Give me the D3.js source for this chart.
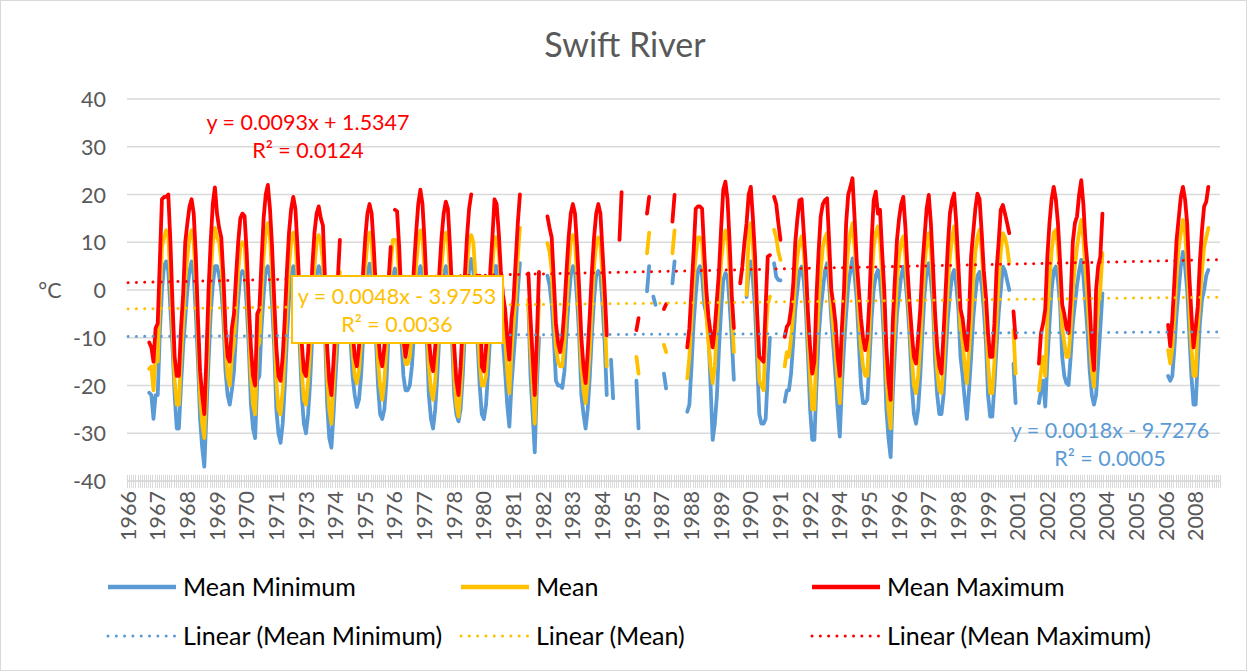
<!DOCTYPE html>
<html>
<head>
<meta charset="utf-8">
<script src="https://cdn.jsdelivr.net/npm/d3@7"></script>
<style>
  body { margin: 0; background: #fff; }
  text { font-family: Lato, "Open Sans", sans-serif; }
</style>
</head>
<body>
<svg id="chart" width="1247" height="671"></svg>
<script>
// Monthly climate record, Swift River, Jan 1966 - Dec 2008 (one row per year, Jan..Dec)
const _ = null;
const firstYear = 1966;
const lastYear = 2008;

const meanMaximum = [
  _,_,_,_,_,_,_,_,_,_,-11,-12,                       // 1966
  -15,-8,-7,6,19,19.5,19.5,20,10,-3,-14,-18,        // 1967
  -18,-8,-1,10,14,17.5,19,16,7,-6,-17,-22,          // 1968
  -26,-14,0,10,18,21.5,16,13,11,3,-8,-14,           // 1969
  -15,-8,-5,3,10,15,16,15.5,8,-3,-12,-18,           // 1970
  -20,-5,-4,6,15,20,22,17,9,-2,-12,-18,             // 1971
  -19,-14,-6,4,12,17,19.5,17,9,-1,-11,-17,          // 1972
  -18,-13,-5,5,12,16,17.5,15,13.5,2,-12,-19,        // 1973
  -22,-15,-7,2,10.5,_,_,_,_,0,-8,-14,               // 1974
  -16,-12,-5,4,11,16,18,16,9,0,-9,-14,              // 1975
  -16,-12,-6,2,9,_,16.8,16.5,9,-2,-10,-14,          // 1976
  -11,-8,-3,5,12,18,21,18,10,0,-10,-15,             // 1977
  -17,-12,-5,4,11,16,18.5,17,9,-1,-12,-19,          // 1978
  -22,-16,-7,3,11,17,20,_,_,_,3,-16,                // 1979
  -17,-12,-5,4,11,19,18,12,4,-1,-4,-10,             // 1980
  -14.6,-6,-2,6,14,20,_,_,_,3.5,-6,-14,             // 1981
  -22,-10,3.8,_,_,_,15.4,13,11,2,-7,-11,            // 1982
  -13,-10,-4,4,11,16,18,16,9,0,-10,-16,             // 1983
  -19.5,-13,-5,4,11,16,18,16,8,0,-9.5,_,            // 1984
  _,_,_,_,10.5,20.5,_,_,_,_,_,_,                     // 1985
  -8.4,-5.9,_,_,_,16,19.5,_,_,_,_,_,                 // 1986
  _,-4,-3,_,_,14.3,19.9,_,_,_,_,_,                   // 1987
  -12,-8,0,8,17,17.5,17.5,17,8,0,-5.6,-9,           // 1988
  -12,-8,-2,4,13,21,22.7,19,10,-1,-8,_,             // 1989
  _,1.4,5,10,14,20,21.6,15,7,-5,-14,-14.5,          // 1990
  -15,-3.5,7,7.3,_,19.5,18,14,10.5,_,-9.8,-7.7,     // 1991
  -7,-4,1,10,15,18.8,19,12,5,-5,-12,-17.5,          // 1992
  -15,-1.4,8,15.4,18,18.8,19.2,10,0,-3,-7,-14,      // 1993
  -18,-8,0,14,20,21.6,23.4,15,6,0,-6,-10,           // 1994
  -12.6,-10,-2,10,18.8,20.6,16,16.8,8,0,-12,-19,    // 1995
  -23,-7,2,10.5,15,18,19.5,13,4,-3,-9,-14,          // 1996
  -15.4,-10,-4,5,11,17,19.9,14,5,-5,-12,-16,        // 1997
  -17.5,-9,0,9,16,18.8,20.2,14,5,-4,-6,-10,         // 1998
  -12.6,-6,7,12,17,20.2,19,12,4,-1.4,-9,-14,        // 1999
  -14,-7,4,10,16.8,17.8,16,14,11.9,_,-4.5,-10,      // 2000
  _,_,_,_,_,_,_,_,_,_,-15.4,-9,                      // 2001
  -7,-4,7,14,19,21.6,19,14,6,-3,-5,-8,              // 2002
  -9,-2,10,14,15.4,20,23,18,10,5,-3.5,-12,          // 2003
  -16.8,0,5,7,16,_,_,_,_,_,_,_,                      // 2004
  _,_,_,_,_,_,_,_,_,_,_,_,                           // 2005
  _,_,_,_,_,_,_,_,_,_,_,-7.3,                        // 2006
  -11.8,-6,2,10.5,15,19.5,21.6,19,14,3,-5,-12,      // 2007
  -8,-3.5,6,12.6,17.5,18.5,21.6,_,_,_,_,_            // 2008
];

const meanTemp = [
  _,_,_,_,_,_,_,_,_,_,-16.5,-16,                     // 1966
  -21,-14,-15,-2,9,11,12.5,11,3,-8,-19,-24,         // 1967
  -24,-14,-7,2,7,11,12.5,10,2,-10,-22,-28,          // 1968
  -31,-20,-8,3,10,13,11,10,6,-2,-12,-18,            // 1969
  -20,-14,-11,-3,4,9,10,9.5,3,-7,-18,-24,           // 1970
  -26,-12,-11,-1,7,12,14,11,3,-7,-19,-25,           // 1971
  -26,-21,-13,-3,5,10,12,10,3,-6,-17,-23,           // 1972
  -24,-19,-12,-2,5,10,11.5,10,6,-4,-18,-25,         // 1973
  -28,-20,-12,-4,3.8,_,_,_,_,-5,-13,-18,            // 1974
  -19.5,-17,-11,-3,5,10,12,10,3,-5,-15,-20,         // 1975
  -23,-19,-12,-3,5,10.5,10.5,10,3,-5,-12,-15.5,     // 1976
  -15.5,-14,-9,-2,5,10,12.5,11,4,-5,-16,-21,        // 1977
  -23,-19,-12,-3,5,10,12,10.5,3,-6,-18,-24,         // 1978
  -26.5,-21,-13,-3,5,10,11.5,10,3,-6,-15,-20,       // 1979
  -20,-18,-11,-3,5,11,11,8,2,-5,-10,-17,            // 1980
  -21.6,-13,-7,-1,7,13,_,_,_,-2,-12,-20,            // 1981
  -28,-14,-2,_,_,_,9.8,8,4,-5,-12,-15,              // 1982
  -16,-16,-11,-3,5,10,11.5,10,3,-5,-16,-21,         // 1983
  -23.7,-19,-12,-3,5,9.5,11,9.5,3,-5,-16,_,         // 1984
  _,_,_,_,_,_,_,_,_,_,_,_,                           // 1985
  -14,-17.5,_,_,_,7.7,12,_,_,_,_,_,                  // 1986
  _,-11.5,-13,_,_,7.7,12.5,_,_,_,_,_,                // 1987
  -18.5,-14,-6,2,7,11,11,10,3,-5,-11,-16,           // 1988
  -19.5,-16,-8,-1,6,10,12.5,11,4,-4,-13,_,          // 1989
  _,_,_,_,-1,12,14,9,2,-8,-19,-20,                   // 1990
  -21,-10,-3,-1.4,_,12.6,11,8,6.3,_,-16,-13,        // 1991
  -14,-10,-5,2,7,10,11.2,8,1,-9,-18,-25,            // 1992
  -25,-12,-3,4,9,11,11.9,6,-3,-8,-13,-19,           // 1993
  -23.7,-12,-5,3,9,12,14,9,3,-5,-12,-16,            // 1994
  -18,-18,-8,2,9,12,13.3,10,3,-6,-18,-25,           // 1995
  -29,-15,-7,2,7,10,11.2,7,0,-6,-14,-20,            // 1996
  -21.6,-18,-11,-2,5,10,11.9,8,1,-10,-17,-21,       // 1997
  -21.6,-16,-7,1,7,11,13.3,9,2,-8,-11,-16,          // 1998
  -19.5,-13,-6,2,8,11,12.6,8,1,-6,-15,-21.6,        // 1999
  -21.6,-15,-6,2,8,11.9,11,9,5.6,_,-8.4,-17.5,      // 2000
  _,_,_,_,_,_,_,_,_,_,-21,-17,                       // 2001
  -14,-18,-6,2,8,12,12.6,9,2,-8,-11,-14,            // 2002
  -14,-8,0,5,9,12,14.7,11,4,-2,-10,-17,             // 2003
  -20.3,-10,-3,0,7.7,_,_,_,_,_,_,_,                  // 2004
  _,_,_,_,_,_,_,_,_,_,_,_,                           // 2005
  _,_,_,_,_,_,_,_,_,_,_,-12.6,                       // 2006
  -15.4,-12,-5,3,9,12,14.7,12,6,-3,-12,-18,         // 2007
  -18,-8,-2,4,9,11,13,_,_,_,_,_                      // 2008
];

const meanMinimum = [
  _,_,_,_,_,_,_,_,_,_,-21.5,-22,                     // 1966
  -27,-22,-22,-9,0,5,6,4,-4,-12,-22,-29,            // 1967
  -29,-20,-12,-6,0,4,6,3,-5,-15,-27,-33,            // 1968
  -37,-26,-15,-5,1,5,5,3,0,-6,-17,-22,              // 1969
  -24,-21,-17,-9,-2,3,4,3.5,-3,-12,-24,-29,         // 1970
  -31,-19,-18,-8,-1,4,5,3,-3,-12,-25,-30,           // 1971
  -32,-28,-20,-10,-2,3,5,3,-3,-11,-22,-28,          // 1972
  -30,-26,-19,-9,-2,3,5,4,0,-9,-24,-31,             // 1973
  -33,-26,-18,-10,-3,_,_,_,_,-10,-18,-22,           // 1974
  -24.5,-23,-18,-10,-2,3,5.5,4,-2,-10,-20,-26,      // 1975
  -27,-25,-19,-9,-2,3,4.5,3,-3,-10,-18,-21,         // 1976
  -21,-20,-16,-9,-2,3,5,4,-2,-10,-22,-27,           // 1977
  -29,-25,-18,-9,-2,3,5,4,-2,-11,-22,-26,           // 1978
  -27.5,-25,-18,-9,-1,4,6.5,4,-2,-11,-20,-26,       // 1979
  -27,-24,-17,-9,-2,5,5,2,-3,-11,-17,-24,           // 1980
  -28.6,-20,-14,-8,0,5.6,_,_,_,-3,-18,-26,          // 1981
  -34,-20,-10,_,_,_,3,1,-3,-10,-19,-20,             // 1982
  -20,-20.5,-17,-9,-2,3,5,4,-2,-10,-22,-26,         // 1983
  -29,-25,-18,-9,-2,3,4,3,-3,-11,-22,_,             // 1984
  -14.6,-22.7,_,_,_,_,_,_,_,_,_,_,                   // 1985
  -19,-29,_,_,_,-0.3,5,_,-1.4,-3.1,_,_,              // 1986
  _,-17.5,-20.6,_,_,1.4,6,_,_,_,_,_,                 // 1987
  -25.5,-24,-16,-7,-1,4,5,3,-3,-5,-9,-20,           // 1988
  -31.4,-28,-22,-12,-4,2,3.5,3,-3,-10,-18.8,_,      // 1989
  _,_,_,_,-1.5,4,6,2,-4,-15,-26,-28,                 // 1990
  -28,-27,-18,-10,_,5.6,2.8,2.1,2,_,-23.4,-21,      // 1991
  -21,-17.5,-11,-4,0,4,4.9,2,-4,-14,-25,-31.4,      // 1992
  -31.4,-20,-10,-4,0,4,5.6,1,-6,-12,-18,-25,        // 1993
  -30.7,-20,-12,-5,1,4,6.6,3,-2,-11,-20,-23.7,      // 1994
  -23.7,-23,-15,-6,0,3,4.2,2,-3,-12,-25,-31,        // 1995
  -35,-22,-13,-5,-1,3,4.9,2,-3,-10,-20,-26,         // 1996
  -28,-25,-18,-9,-1,4,5.6,2,-3,-15,-22,-26,         // 1997
  -26,-22,-14,-6,-1,3,4.2,1,-4,-14,-18,-23,         // 1998
  -27,-21,-14,-6,-1,3,3.8,1,-4,-11,-22,-26.5,       // 1999
  -26.5,-20,-12,-5,0,4.9,4,2,0,_,-15.4,-23.7,       // 2000
  _,_,_,_,_,_,_,_,_,_,-23.7,-21,                     // 2001
  -19,-24.4,-15,-7,0,4,4.9,2,-3,-14,-18,-19.5,      // 2002
  -19.9,-14,-7,-3,1,4,6.3,3,-3,-9,-17,-22,          // 2003
  -24,-22,-15,-8,-0.7,_,_,_,_,_,_,_,                 // 2004
  _,_,_,_,_,_,_,_,_,_,_,_,                           // 2005
  _,_,_,_,_,_,_,_,_,_,_,-18,                         // 2006
  -19,-18,-12,-5,0,5,8,5,0,-9,-18,-24,              // 2007
  -24,-15,-7,-2,0,3,4.2,_,_,_,_,_                    // 2008
];

// Linear trendlines (x = month number, starting at 1)
const seriesNames   = ["Mean Minimum", "Mean", "Mean Maximum"];
const seriesColors  = ["#5B9BD5", "#FFC000", "#FF0000"];
const trendSlopes     = [0.0018, 0.0048, 0.0093];
const trendIntercepts = [-9.7276, -3.9753, 1.5347];
const trendLabels = [
  ["y = 0.0018x - 9.7276", "R² = 0.0005"],
  ["y = 0.0048x - 3.9753", "R² = 0.0036"],
  ["y = 0.0093x + 1.5347", "R² = 0.0124"]
];
const yTicks = [-40, -30, -20, -10, 0, 10, 20, 30, 40];
const labelEvery = 14; // months between category labels

const W = 1247, H = 671;
const svg = d3.select("#chart");
const plot = { left: 127, right: 1220, top: 99, bottom: 481 };
const nMonths = (lastYear - firstYear + 1) * 12;
const months = d3.range(nMonths);

const x = d3.scaleBand().domain(months).range([plot.left, plot.right]).paddingInner(0).paddingOuter(0);
const xc = i => x(i) + x.bandwidth() / 2;
const y = d3.scaleLinear().domain([-40, 40]).range([plot.bottom, plot.top]);

// chart frame
svg.append("rect").attr("x", 0.5).attr("y", 0.5).attr("width", W - 1).attr("height", H - 1)
  .attr("fill", "#fff").attr("stroke", "#D9D9D9").attr("stroke-width", 1);

// title
svg.append("text").attr("x", 625).attr("y", 57).attr("text-anchor", "middle")
  .attr("font-size", 34).attr("fill", "#595959").text("Swift River");

// gridlines
svg.append("g").selectAll("line").data(yTicks).join("line")
  .attr("x1", plot.left).attr("x2", plot.right)
  .attr("y1", d => y(d)).attr("y2", d => y(d))
  .attr("stroke", "#D9D9D9").attr("stroke-width", 1.5);

// y-axis labels
const yAxis = d3.axisLeft(y).tickValues(yTicks).tickFormat(d => String(d)).tickSize(0).tickPadding(0);
const gy = svg.append("g").attr("transform", `translate(${plot.left - 21},0)`).call(yAxis);
gy.select(".domain").remove();
gy.selectAll("text").attr("font-size", 21.5).attr("fill", "#595959")
  .attr("font-family", "Lato, sans-serif").attr("dy", "0.35em");

svg.append("text").attr("x", 50).attr("y", 290).attr("dy", "0.35em").attr("text-anchor", "middle")
  .attr("font-size", 21.5).attr("fill", "#595959").text("°C");

// x-axis: one tick per month, label every 14 months
const xAxis = d3.axisBottom(x)
  .tickValues(months.filter(i => i % labelEvery === 0))
  .tickFormat(i => String(firstYear + Math.floor(i / 12)))
  .tickSize(0).tickPadding(0);
const gx = svg.append("g").attr("transform", `translate(0,${plot.bottom})`).call(xAxis);
gx.select(".domain").remove();
gx.selectAll("text")
  .attr("font-size", 21.5).attr("fill", "#595959").attr("font-family", "Lato, sans-serif")
  .attr("transform", "rotate(-90)")
  .attr("text-anchor", "end").attr("x", -10).attr("y", 0).attr("dy", "0.35em");

const tickPos = d3.range(nMonths + 1).map(i => plot.left + i * x.bandwidth());
svg.append("g").selectAll("line").data(tickPos).join("line")
  .attr("x1", d => Math.round(d) + 0.5).attr("x2", d => Math.round(d) + 0.5)
  .attr("y1", plot.bottom - 6).attr("y2", plot.bottom + 7)
  .attr("stroke", "#D9D9D9").attr("stroke-width", 1);
svg.append("line").attr("x1", plot.left).attr("x2", plot.right)
  .attr("y1", plot.bottom).attr("y2", plot.bottom)
  .attr("stroke", "#D9D9D9").attr("stroke-width", 1.5);

// series lines
const seriesData = [meanMinimum, meanTemp, meanMaximum];
const line = d3.line()
  .defined(d => d.v !== null)
  .x(d => xc(d.i)).y(d => y(d.v));

seriesData.forEach((vals, k) => {
  svg.append("path")
    .datum(vals.map((v, i) => ({ i, v })))
    .attr("d", line)
    .attr("fill", "none")
    .attr("stroke", seriesColors[k])
    .attr("stroke-width", 3.8)
    .attr("stroke-linejoin", "round")
    .attr("stroke-linecap", "round");
});

// trendlines
seriesData.forEach((vals, k) => {
  const t = i => trendSlopes[k] * (i + 1) + trendIntercepts[k];
  svg.append("line")
    .attr("x1", xc(0)).attr("x2", xc(nMonths - 1))
    .attr("y1", y(t(0))).attr("y2", y(t(nMonths - 1)))
    .attr("stroke", seriesColors[k])
    .attr("stroke-width", 3)
    .attr("stroke-linecap", "round")
    .attr("stroke-dasharray", "0.01 8.3");
});

// trendline equations
function eqLabel(lines, cx, cy, color) {
  const g = svg.append("g");
  lines.forEach((s, j) => {
    g.append("text").attr("x", cx).attr("y", cy + j * 28).attr("text-anchor", "middle")
      .attr("dy", "0.35em").attr("font-size", 21.5).attr("fill", color).text(s);
  });
  return g;
}
eqLabel(trendLabels[2], 308, 122, seriesColors[2]);

svg.append("rect").attr("x", 292).attr("y", 276).attr("width", 211).attr("height", 67)
  .attr("fill", "#fff").attr("stroke", seriesColors[1]).attr("stroke-width", 2);
eqLabel(trendLabels[1], 397, 296, seriesColors[1]);

eqLabel(trendLabels[0], 1110, 430, seriesColors[0]);

// legend
const legendItems = [
  { label: seriesNames[0], color: seriesColors[0], x: 106, y: 587, dotted: false },
  { label: seriesNames[1], color: seriesColors[1], x: 459, y: 587, dotted: false },
  { label: seriesNames[2], color: seriesColors[2], x: 810, y: 587, dotted: false },
  { label: `Linear (${seriesNames[0]})`, color: seriesColors[0], x: 106, y: 636, dotted: true },
  { label: `Linear (${seriesNames[1]})`, color: seriesColors[1], x: 459, y: 636, dotted: true },
  { label: `Linear (${seriesNames[2]})`, color: seriesColors[2], x: 810, y: 636, dotted: true }
];
const lg = svg.append("g").selectAll("g").data(legendItems).join("g");
lg.append("line")
  .attr("x1", d => d.x + 2).attr("x2", d => d.x + 70)
  .attr("y1", d => d.y).attr("y2", d => d.y)
  .attr("stroke", d => d.color)
  .attr("stroke-width", d => d.dotted ? 3 : 4.5)
  .attr("stroke-linecap", d => d.dotted ? "round" : "butt")
  .attr("stroke-dasharray", d => d.dotted ? "0.01 8.3" : null);
lg.append("text")
  .attr("x", d => d.x + 77).attr("y", d => d.y).attr("dy", "0.35em")
  .attr("font-size", 25).attr("fill", "#000").text(d => d.label);
</script>
</body>
</html>
